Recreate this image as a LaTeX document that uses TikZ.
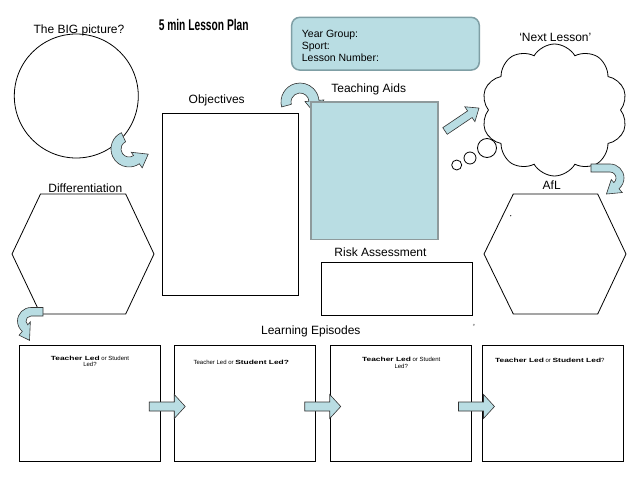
\documentclass[tikz,border=0pt]{standalone}
\usepackage{fontspec}
\setmainfont{Liberation Sans}
\usepackage{graphicx}
\usetikzlibrary{shapes.symbols,calc,positioning}

\definecolor{paleblue}{HTML}{B9DDE3}
\definecolor{edgeblue}{HTML}{7F9FA5}
\definecolor{aidsedge}{HTML}{8E9A9C}

\tikzset{
  plainbox/.style={draw, line width=0.8, inner sep=0},
  labeltext/.style={font=\fontsize{12}{14}\selectfont, inner sep=0},
  turnarrow/.style={fill=paleblue, draw=black!80, line width=0.6},
  eptext/.style={font=\fontsize{6}{6.5}\selectfont, align=center, inner sep=0},
}

\newcommand\heavy[1]{\scalebox{1.4}[1]{\bfseries #1}}

% bent arrow: centre, start angle, end angle, outer r, inner r, tip direction, lead
\newcommand\bentarrow[7]{%
  \filldraw[turnarrow, shift={#1}] ([shift={#7}]#2:#4) -- (#2:#4)
    arc[start angle=#2, end angle=#3, radius=#4] -- (#3:{#4+5})
    -- ([shift={(#6:13)}]#3:{(#4+#5)/2}) -- (#3:{#5-4}) -- (#3:#5)
    arc[start angle=#3, end angle=#2, radius=#5] -- ([shift={#7}]#2:#5) -- cycle;}

% block arrow: position, angle, length, shaft half width, head half width
\newcommand\blockarrow[5]{%
  \filldraw[turnarrow, shift={#1}, rotate=#2] (0,-#4) -- ({#3-11},-#4) -- ({#3-11},-#5)
    -- (#3,0) -- ({#3-11},#5) -- ({#3-11},#4) -- (0,#4) -- cycle;}

\begin{document}
\begin{tikzpicture}[x=1pt,y=-1pt]
\useasboundingbox (0,0) rectangle (638,479);
\fill[white] (0,0) rectangle (638,479);

% top row
\node[labeltext] (bigtitle) at (79,30) {The BIG picture?};
\node[inner sep=0] (title) at (203.7,25) {\scalebox{0.66}[1]{\fontsize{15.5}{16}\selectfont\bfseries 5 min Lesson Plan}};
\node[draw, circle, minimum size=124, line width=0.8, inner sep=0] (bigpic) at (76.3,96) {};
\bentarrow{(129,149)}{245}{55}{18}{8}{-25}{(0,0)}

\node[draw=edgeblue, fill=paleblue, line width=1.5, rounded corners=8, minimum width=187.6, minimum height=52.7] (yeargroup) at (385.5,43.7) {};
\node[anchor=north west, align=left, font=\fontsize{10.5}{12}\selectfont, inner sep=0] (yeartext) at (301.7,29.5) {Year Group:\\Sport:\\Lesson Number:};

\node[labeltext] (objlabel) at (216.7,100) {Objectives};
\node[plainbox, minimum width=136, minimum height=182.4] (obj) at (230.3,204.5) {};

\bentarrow{(300,102)}{165}{355}{19}{9}{85}{(0,0)}
\node[labeltext] (aidslabel) at (368.7,89.3) {Teaching Aids};
\node[draw=aidsedge, fill=paleblue, line width=1.6, minimum width=127, minimum height=137.6, inner sep=0] (aids) at (374.2,170.5) {};

\blockarrow{(445,131)}{34}{41}{4}{9}

% next lesson cloud
\node[labeltext] (nextlabel) at (555.3,37.7) {`Next Lesson'};
\node[draw, cloud, cloud puffs=10, cloud puff arc=120, aspect=1.1, minimum width=146, minimum height=132, inner sep=0, line width=0.8] (nextcloud) at (554.5,110) {};
\foreach \cx/\cy/\r in {487/148/9.5, 470/158/6, 456.7/165/5}
  \draw[line width=0.8] (\cx,\cy) circle[radius=\r];
\bentarrow{(610,178)}{-90}{50}{14}{6}{140}{(-19,0)}

% hexagons
\node[labeltext] (difflabel) at (85.3,188.3) {Differentiation};
\draw[line width=0.8] (12,254) -- (40.5,194) -- (125.7,194) -- (154,254) -- (125.7,314) -- (40.5,314) -- cycle;
\node[labeltext] (afllabel) at (551.7,185) {AfL};
\draw[line width=0.8] (484,254) -- (513.3,194) -- (597.7,194) -- (626,254) -- (597.7,314) -- (513.3,314) -- cycle;
\fill (510.7,215.7) circle[radius=0.6];
\bentarrow{(31,321)}{-90}{-230}{13.5}{5}{70}{(12,0)}

\node[labeltext] (risklabel) at (380.5,252.7) {Risk Assessment};
\node[plainbox, minimum width=151, minimum height=52.7] (risk) at (397.2,288.6) {};
\node[font=\fontsize{4}{4}\selectfont, text=black!60, inner sep=0] (mark) at (474,325) {e};

% learning episodes
\node[labeltext] (eplabel) at (310.8,331) {Learning Episodes};
\foreach \n/\x in {1/89.5,2/245,3/400.5,4/552.5}
  \node[plainbox, minimum width=141, minimum height=116] (ep\n) at (\x,403) {};
\foreach \a/\b in {1/2,2/3,3/4}
  {\blockarrow{($(ep\a.east)!0.5!(ep\b.west)+(-18,3.5)$)}{0}{36}{4.5}{12}}

\node[eptext] (ep1text) at (90,361.3) {\heavy{Teacher Led} or Student\\Led?};
\node[eptext] (ep2text) at (241.3,362.7) {Teacher Led or \heavy{Student Led?}};
\node[eptext] (ep3text) at (401.2,363) {\heavy{Teacher Led} or Student\\Led?};
\node[eptext] (ep4text) at (549.8,360.7) {\heavy{Teacher Led} or \heavy{Student Led}?};
\end{tikzpicture}
\end{document}
